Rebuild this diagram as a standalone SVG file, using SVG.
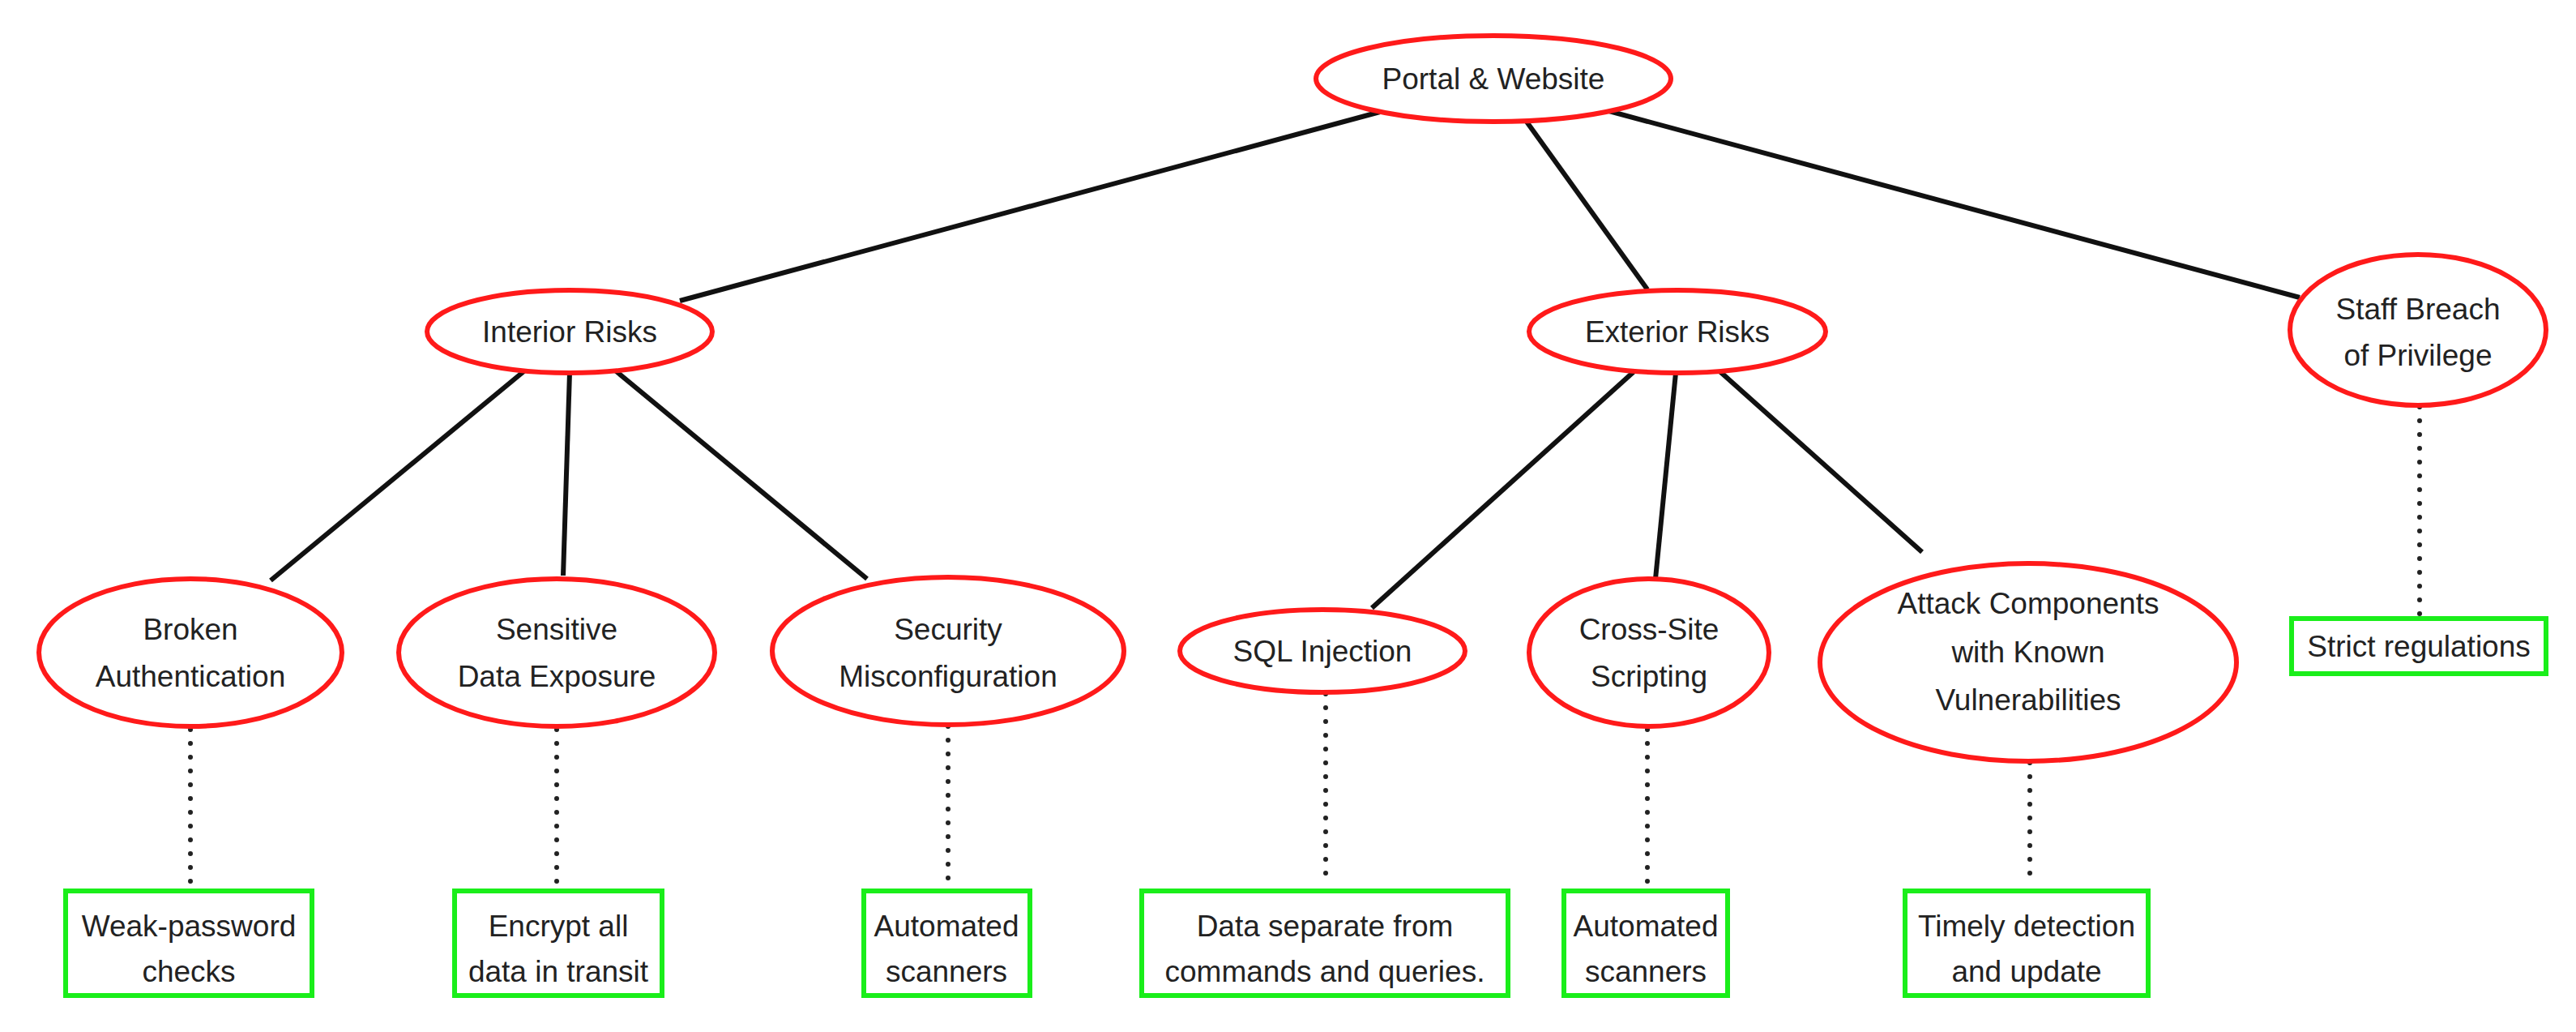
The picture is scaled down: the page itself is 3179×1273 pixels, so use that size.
<svg xmlns="http://www.w3.org/2000/svg" width="3179" height="1273" viewBox="0 0 3179 1273">
<style>
.n{fill:#fff;stroke:#ff1a1a;stroke-width:6}
.b{fill:#fff;stroke:#1aee1a;stroke-width:6}
.e{stroke:#111;stroke-width:6;fill:none}
.d{stroke:#222;stroke-width:6;fill:none;stroke-dasharray:0 17;stroke-linecap:round}
text{font-family:"Liberation Sans",Arial,sans-serif;font-size:37px;fill:#222;text-anchor:middle}
</style>
<rect width="3179" height="1273" fill="#fff"/>
<g id="connectors">
<line class="e" x1="1703" y1="138" x2="839" y2="371"/>
<line class="e" x1="1881" y1="146" x2="2033" y2="357"/>
<line class="e" x1="1982" y1="136" x2="2838" y2="367"/>
<line class="e" x1="649" y1="456" x2="334" y2="716"/>
<line class="e" x1="703" y1="460" x2="695" y2="710"/>
<line class="e" x1="758" y1="456" x2="1070" y2="714"/>
<line class="e" x1="2019" y1="456" x2="1693" y2="750"/>
<line class="e" x1="2068" y1="460" x2="2043" y2="714"/>
<line class="e" x1="2120" y1="456" x2="2372" y2="681"/>
<line class="d" x1="235" y1="900" x2="235" y2="1094"/>
<line class="d" x1="687" y1="900" x2="687" y2="1094"/>
<line class="d" x1="1170" y1="896" x2="1170" y2="1094"/>
<line class="d" x1="1636" y1="856" x2="1636" y2="1094"/>
<line class="d" x1="2033" y1="900" x2="2033" y2="1094"/>
<line class="d" x1="2505" y1="941" x2="2505" y2="1094"/>
<line class="d" x1="2986" y1="502" x2="2986" y2="759"/>
</g>
<g id="portal"><ellipse class="n" cx="1843" cy="97" rx="219" ry="53"/><text x="1843" y="110">Portal &amp; Website</text></g>
<g id="interior"><ellipse class="n" cx="703" cy="409" rx="176" ry="51"/><text x="703" y="422">Interior Risks</text></g>
<g id="exterior"><ellipse class="n" cx="2070" cy="409" rx="183" ry="51"/><text x="2070" y="422">Exterior Risks</text></g>
<g id="staff"><ellipse class="n" cx="2984" cy="407" rx="158" ry="93"/><text x="2984" y="394">Staff Breach</text><text x="2984" y="451">of Privilege</text></g>
<g id="broken"><ellipse class="n" cx="235" cy="805" rx="187" ry="91"/><text x="235" y="789">Broken</text><text x="235" y="847">Authentication</text></g>
<g id="sensitive"><ellipse class="n" cx="687" cy="805" rx="195" ry="91"/><text x="687" y="789">Sensitive</text><text x="687" y="847">Data Exposure</text></g>
<g id="security"><ellipse class="n" cx="1170" cy="803" rx="217" ry="91"/><text x="1170" y="789">Security</text><text x="1170" y="847">Misconfiguration</text></g>
<g id="sql"><ellipse class="n" cx="1632" cy="803" rx="176" ry="51"/><text x="1632" y="816">SQL Injection</text></g>
<g id="xss"><ellipse class="n" cx="2035" cy="805" rx="148" ry="91"/><text x="2035" y="789">Cross-Site</text><text x="2035" y="847">Scripting</text></g>
<g id="attack"><ellipse class="n" cx="2503" cy="817" rx="257" ry="122"/><text x="2503" y="757">Attack Components</text><text x="2503" y="817">with Known</text><text x="2503" y="876">Vulnerabilities</text></g>
<g id="weak"><rect class="b" x="81" y="1099" width="304" height="129"/><text x="233" y="1155">Weak-password</text><text x="233" y="1211">checks</text></g>
<g id="encrypt"><rect class="b" x="561" y="1099" width="256" height="129"/><text x="689" y="1155">Encrypt all</text><text x="689" y="1211">data in transit</text></g>
<g id="auto1"><rect class="b" x="1066" y="1099" width="205" height="129"/><text x="1168" y="1155">Automated</text><text x="1168" y="1211">scanners</text></g>
<g id="data"><rect class="b" x="1409" y="1099" width="452" height="129"/><text x="1635" y="1155">Data separate from</text><text x="1635" y="1211">commands and queries.</text></g>
<g id="auto2"><rect class="b" x="1930" y="1099" width="202" height="129"/><text x="2031" y="1155">Automated</text><text x="2031" y="1211">scanners</text></g>
<g id="timely"><rect class="b" x="2351" y="1099" width="300" height="129"/><text x="2501" y="1155">Timely detection</text><text x="2501" y="1211">and update</text></g>
<g id="strict"><rect class="b" x="2828" y="763" width="314" height="68"/><text x="2985" y="810">Strict regulations</text></g>
</svg>
